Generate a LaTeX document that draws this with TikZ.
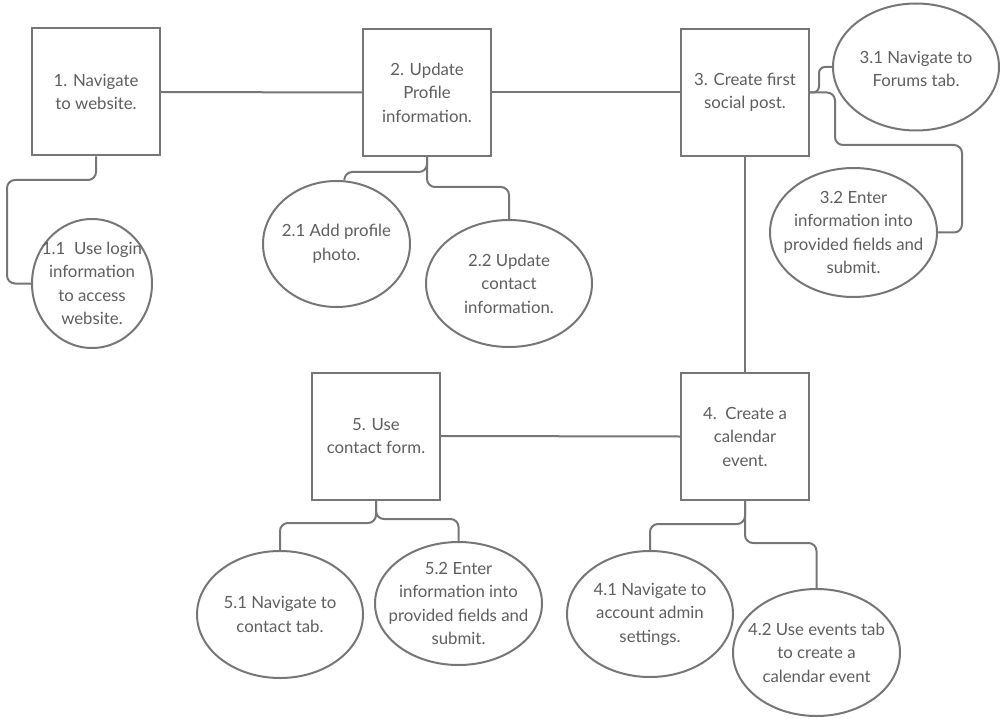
\documentclass[tikz,border=0pt]{standalone}
\usepackage{fontspec}
\setmainfont{Lato}
\usetikzlibrary{shapes.geometric}
\definecolor{ln}{HTML}{767676}
\definecolor{tx}{HTML}{5E5E5E}
\newcommand{\diagfont}{\fontsize{16.8}{23.5}\selectfont}
\begin{document}
\begin{tikzpicture}[x=1pt,y=-1pt,
  box/.style={draw=ln, line width=2pt, minimum width=128pt, minimum height=127pt, inner sep=0pt, text=tx, align=center, font=\diagfont},
  ell/.style={draw=ln, line width=2pt, ellipse, inner sep=0pt},
  lbl/.style={text=tx, align=center, font=\diagfont, inner sep=0pt},
  conn/.style={draw=ln, line width=2pt, rounded corners=8pt}]
\useasboundingbox (0,0) rectangle (1000,719);
% main steps
\node[box] (b1) at (96,92) {1. Navigate\\to website.};
\node[box] (b2) at (427,92.5) {2. Update\\Profile\\information.};
\node[box] (b3) at (745,92.5) {3. Create first\\social post.};
\node[box] (b4) at (745,436.5) {4.\ \ Create a\\calendar\\event.};
\node[box] (b5) at (376,436) {5. Use\\contact form.};
% sub steps
\node[ell, minimum width=120pt, minimum height=129pt] (e11) at (92,283.5) {};
\node[lbl] (t11) at (e11) {1.1\ \ Use login\\information\\to access\\website.};
\node[ell, minimum width=147pt, minimum height=126pt] (e21) at (336.5,244) {};
\node[lbl] (t21) at (e21) {2.1 Add profile\\photo.};
\node[ell, minimum width=166pt, minimum height=127pt] (e22) at (509,283.5) {};
\node[lbl] (t22) at (e22) {2.2 Update\\contact\\information.};
\node[ell, minimum width=166pt, minimum height=127pt] (e31) at (916,67) {};
\node[lbl] (t31) at (916,69) {3.1 Navigate to\\Forums tab.};
\node[ell, minimum width=167pt, minimum height=129pt] (e32) at (853.5,232.5) {};
\node[lbl] (t32) at (e32) {3.2 Enter\\information into\\provided fields and\\submit.};
\node[ell, minimum width=166pt, minimum height=127pt] (e51) at (280,614.5) {};
\node[lbl] (t51) at (e51) {5.1 Navigate to\\contact tab.};
\node[ell, minimum width=167pt, minimum height=123pt] (e52) at (458.5,603.5) {};
\node[lbl] (t52) at (e52) {5.2 Enter\\information into\\provided fields and\\submit.};
\node[ell, minimum width=166pt, minimum height=126pt] (e41) at (650,614) {};
\node[lbl] (t41) at (e41) {4.1 Navigate to\\account admin\\settings.};
\node[ell, minimum width=167pt, minimum height=127pt] (e42) at (816.5,652.5) {};
\node[lbl] (t42) at (e42) {4.2 Use events tab\\to create a\\calendar event};
% main connectors
\draw[conn] (b1.east) -- (b2.west);
\draw[conn] (b2.east) -- (b3.west);
\draw[conn] (b3.south) -- (b4.north);
\draw[conn] (b5.east) -- (b4.west);
% sub connectors
\draw[conn] (b1.south) |- (7,180) |- (e11.west);
\draw[conn] (b2.south) -- (427,172) -| (e21.83);
\draw[conn] (b2.south) -- (427,187) -| (e22.north);
\draw[conn, rounded corners=6pt] (b3.east) -- (819,92.5) |- (e31.west);
\draw[conn] (b3.east) -- (835,92.5) |- (962,145) |- (e32.east);
\draw[conn] (b5.south) -- (376,523) -| (e51.north);
\draw[conn] (b5.south) -- (376,519) -| (e52.north);
\draw[conn] (b4.south) -- (745,524) -| (e41.north);
\draw[conn] (b4.south) -- (745,543) -| (e42.north);
\end{tikzpicture}
\end{document}
